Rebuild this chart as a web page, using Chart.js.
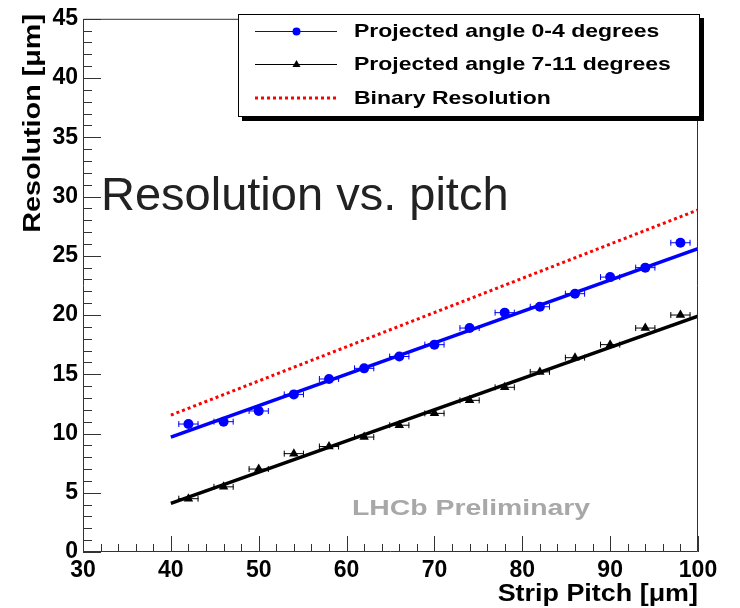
<!DOCTYPE html>
<html>
<head>
<meta charset="utf-8">
<script src="https://cdn.jsdelivr.net/npm/chart.js@4.4.1/dist/chart.umd.min.js"></script>
<style>
  html, body { margin: 0; padding: 0; background: #ffffff; }
  #wrap { width: 740px; height: 608px; }
</style>
</head>
<body>
<div id="wrap"><canvas id="c" width="740" height="608"></canvas></div>
<script>
// Strip pitch values (µm) and measured resolutions (µm)
const pitch = [42, 46, 50, 54, 58, 62, 66, 70, 74, 78, 82, 86, 90, 94, 98];
const pitchErr = [1.15, 1.15, 1.15, 1.15, 1.15, 1.15, 1.15, 1.15, 1.15, 1.15, 1.15, 1.15, 1.15, 1.15, 1.15];
const resAngle0to4 = [10.8, 11.0, 11.9, 13.3, 14.6, 15.5, 16.5, 17.5, 18.9, 20.2, 20.7, 21.8, 23.2, 24.0, 26.1];
const resAngle7to11 = [4.5, 5.5, 7.0, 8.3, 8.9, 9.7, 10.7, 11.7, 12.8, 13.9, 15.2, 16.4, 17.5, 18.9, 20.0];

// Linear fits and binary resolution, evaluated at the ends of the fit range
const fitPitch = [40, 100];
const fit0to4 = [9.7, 25.6];
const fit7to11 = [4.1, 19.9];
const binaryRes = [11.55, 28.87];

// Axis ticks
const xTicks = [30, 40, 50, 60, 70, 80, 90, 100];
const yTicks = [0, 5, 10, 15, 20, 25, 30, 35, 40, 45];

const legendLabels = ['Projected angle 0-4 degrees', 'Projected angle 7-11 degrees', 'Binary Resolution'];

const BLUE = '#0000ff';
const BLACK = '#000000';
const RED = '#ff0000';
const FONT = '"Liberation Sans", Arial, Helvetica, sans-serif';

const toPoints = (xs, ys) => xs.map((x, i) => ({ x: x, y: ys[i] }));

// Text drawn with a horizontal stretch (wide Helvetica look)
function wideText(ctx, text, x, y, sx) {
  ctx.save();
  ctx.translate(x, y);
  ctx.scale(sx, 1);
  ctx.fillText(text, 0, 0);
  ctx.restore();
}

// Horizontal error bars with end caps
const errorBars = {
  id: 'errorBars',
  afterDatasetsDraw(chart) {
    const ctx = chart.ctx;
    const xs = chart.scales.x, ys = chart.scales.y;
    [[0, BLUE], [1, BLACK]].forEach(([di, col]) => {
      const ds = chart.data.datasets[di];
      ctx.save();
      ctx.strokeStyle = col;
      ctx.lineWidth = 1;
      ds.data.forEach((p, i) => {
        const x0 = xs.getPixelForValue(p.x - pitchErr[i]);
        const x1 = xs.getPixelForValue(p.x + pitchErr[i]);
        const y = ys.getPixelForValue(p.y);
        ctx.beginPath();
        ctx.moveTo(x0, y); ctx.lineTo(x1, y);
        ctx.moveTo(x0 + 0.5, y - 3); ctx.lineTo(x0 + 0.5, y + 3);
        ctx.moveTo(x1 - 0.5, y - 3); ctx.lineTo(x1 - 0.5, y + 3);
        ctx.stroke();
      });
      ctx.restore();
    });
  }
};

// Frame with inward ticks, legend box and text annotations
const decorations = {
  id: 'decorations',
  afterDraw(chart) {
    const ctx = chart.ctx;
    const a = chart.chartArea;
    const xs = chart.scales.x, ys = chart.scales.y;
    ctx.save();
    ctx.strokeStyle = '#333333';
    ctx.lineWidth = 1;
    ctx.beginPath();
    ctx.rect(a.left + 0.5, a.top + 0.5, a.right - a.left - 1, a.bottom - a.top - 1);
    // y ticks: major every 5, minor every 1
    for (let v = 0; v <= 45; v += 1) {
      const y = Math.round(ys.getPixelForValue(v)) + 0.5;
      const len = (v % 5 === 0) ? 18 : 9;
      ctx.moveTo(a.left, y); ctx.lineTo(a.left + len, y);
    }
    // x ticks: major every 10, minor every 2
    for (let v = 30; v <= 100; v += 2) {
      const x = Math.round(xs.getPixelForValue(v)) + 0.5;
      const len = (v % 10 === 0) ? 16 : 8;
      ctx.moveTo(x, a.bottom); ctx.lineTo(x, a.bottom - len);
    }
    ctx.stroke();

    // Legend box with drop shadow
    const lx = 238, ly = 14, lw = 462, lh = 103;
    ctx.fillStyle = '#000000';
    ctx.fillRect(lx + 4, ly + 4, lw, lh);
    ctx.fillStyle = '#ffffff';
    ctx.fillRect(lx, ly, lw, lh);
    ctx.strokeStyle = '#000000';
    ctx.strokeRect(lx + 0.5, ly + 0.5, lw - 1, lh - 1);

    const rows = [31, 64, 98];
    // entry 1: blue line with circle
    ctx.strokeStyle = BLUE; ctx.lineWidth = 1;
    ctx.beginPath(); ctx.moveTo(255, rows[0] + 0.5); ctx.lineTo(337, rows[0] + 0.5); ctx.stroke();
    ctx.fillStyle = BLUE;
    ctx.beginPath(); ctx.arc(296.5, rows[0] + 0.5, 4, 0, Math.PI * 2); ctx.fill();
    // entry 2: black line with triangle
    ctx.strokeStyle = BLACK;
    ctx.beginPath(); ctx.moveTo(255, rows[1] + 0.5); ctx.lineTo(337, rows[1] + 0.5); ctx.stroke();
    ctx.fillStyle = BLACK;
    ctx.beginPath(); ctx.moveTo(296.5, rows[1] - 4); ctx.lineTo(300.5, rows[1] + 3); ctx.lineTo(292.5, rows[1] + 3); ctx.closePath(); ctx.fill();
    // entry 3: red dotted line
    ctx.strokeStyle = RED; ctx.lineWidth = 3; ctx.setLineDash([3, 3]);
    ctx.beginPath(); ctx.moveTo(255, rows[2]); ctx.lineTo(336, rows[2]); ctx.stroke();
    ctx.setLineDash([]);

    ctx.fillStyle = '#000000';
    ctx.font = 'bold 19px ' + FONT;
    ctx.textAlign = 'left';
    ctx.textBaseline = 'middle';
    legendLabels.forEach((t, i) => wideText(ctx, t, 354, rows[i] + 1, 1.21));

    // Axis titles
    ctx.font = 'bold 23px ' + FONT;
    ctx.textAlign = 'right';
    ctx.textBaseline = 'alphabetic';
    wideText(ctx, 'Strip Pitch [\u03bcm]', 698, 601, 1.17);
    ctx.save();
    ctx.translate(40, 14);
    ctx.rotate(-Math.PI / 2);
    wideText(ctx, 'Resolution [\u03bcm]', 0, 0, 1.25);
    ctx.restore();

    // Plot title and watermark
    ctx.fillStyle = '#222222';
    ctx.font = '47px ' + FONT;
    ctx.textAlign = 'left';
    ctx.textBaseline = 'alphabetic';
    ctx.fillText('Resolution vs. pitch', 101, 210);

    ctx.fillStyle = '#a8a8a8';
    ctx.font = 'bold 22px ' + FONT;
    wideText(ctx, 'LHCb Preliminary', 352, 515, 1.29);
    ctx.restore();
  }
};

new Chart(document.getElementById('c'), {
  type: 'scatter',
  data: {
    datasets: [
      { label: legendLabels[0], data: toPoints(pitch, resAngle0to4), showLine: false,
        pointStyle: 'circle', pointRadius: 5, pointBackgroundColor: BLUE, pointBorderColor: BLUE, pointBorderWidth: 0 },
      { label: legendLabels[1], data: toPoints(pitch, resAngle7to11), showLine: false,
        pointStyle: 'triangle', pointRadius: 5.5, pointBackgroundColor: BLACK, pointBorderColor: BLACK, pointBorderWidth: 0 },
      { label: 'fit 0-4', data: toPoints(fitPitch, fit0to4), showLine: true, borderColor: BLUE,
        borderWidth: 3.5, pointRadius: 0, fill: false },
      { label: 'fit 7-11', data: toPoints(fitPitch, fit7to11), showLine: true, borderColor: BLACK,
        borderWidth: 3.5, pointRadius: 0, fill: false },
      { label: legendLabels[2], data: toPoints(fitPitch, binaryRes), showLine: true, borderColor: RED,
        borderWidth: 3, borderDash: [3, 3], borderCapStyle: 'butt', pointRadius: 0, fill: false }
    ]
  },
  options: {
    responsive: false,
    animation: false,
    events: [],
    layout: { padding: { top: 13, right: 42, left: 0, bottom: 0 } },
    plugins: { legend: { display: false }, tooltip: { enabled: false }, title: { display: false } },
    scales: {
      x: {
        type: 'linear', min: 30, max: 100,
        afterFit(s) { s.height = 56; },
        afterBuildTicks(s) { s.ticks = xTicks.map(v => ({ value: v })); },
        grid: { display: false, drawTicks: false },
        border: { display: false },
        ticks: { color: '#000', padding: 5, maxRotation: 0, autoSkip: false,
          font: { family: FONT, size: 23, weight: 'bold' } }
      },
      y: {
        type: 'linear', min: 0, max: 45,
        afterFit(s) { s.width = 83; },
        afterBuildTicks(s) { s.ticks = yTicks.map(v => ({ value: v })); },
        grid: { display: false, drawTicks: false },
        border: { display: false },
        ticks: { color: '#000', padding: 5, autoSkip: false,
          font: { family: FONT, size: 23, weight: 'bold' } }
      }
    }
  },
  plugins: [errorBars, decorations]
});
</script>
</body>
</html>
